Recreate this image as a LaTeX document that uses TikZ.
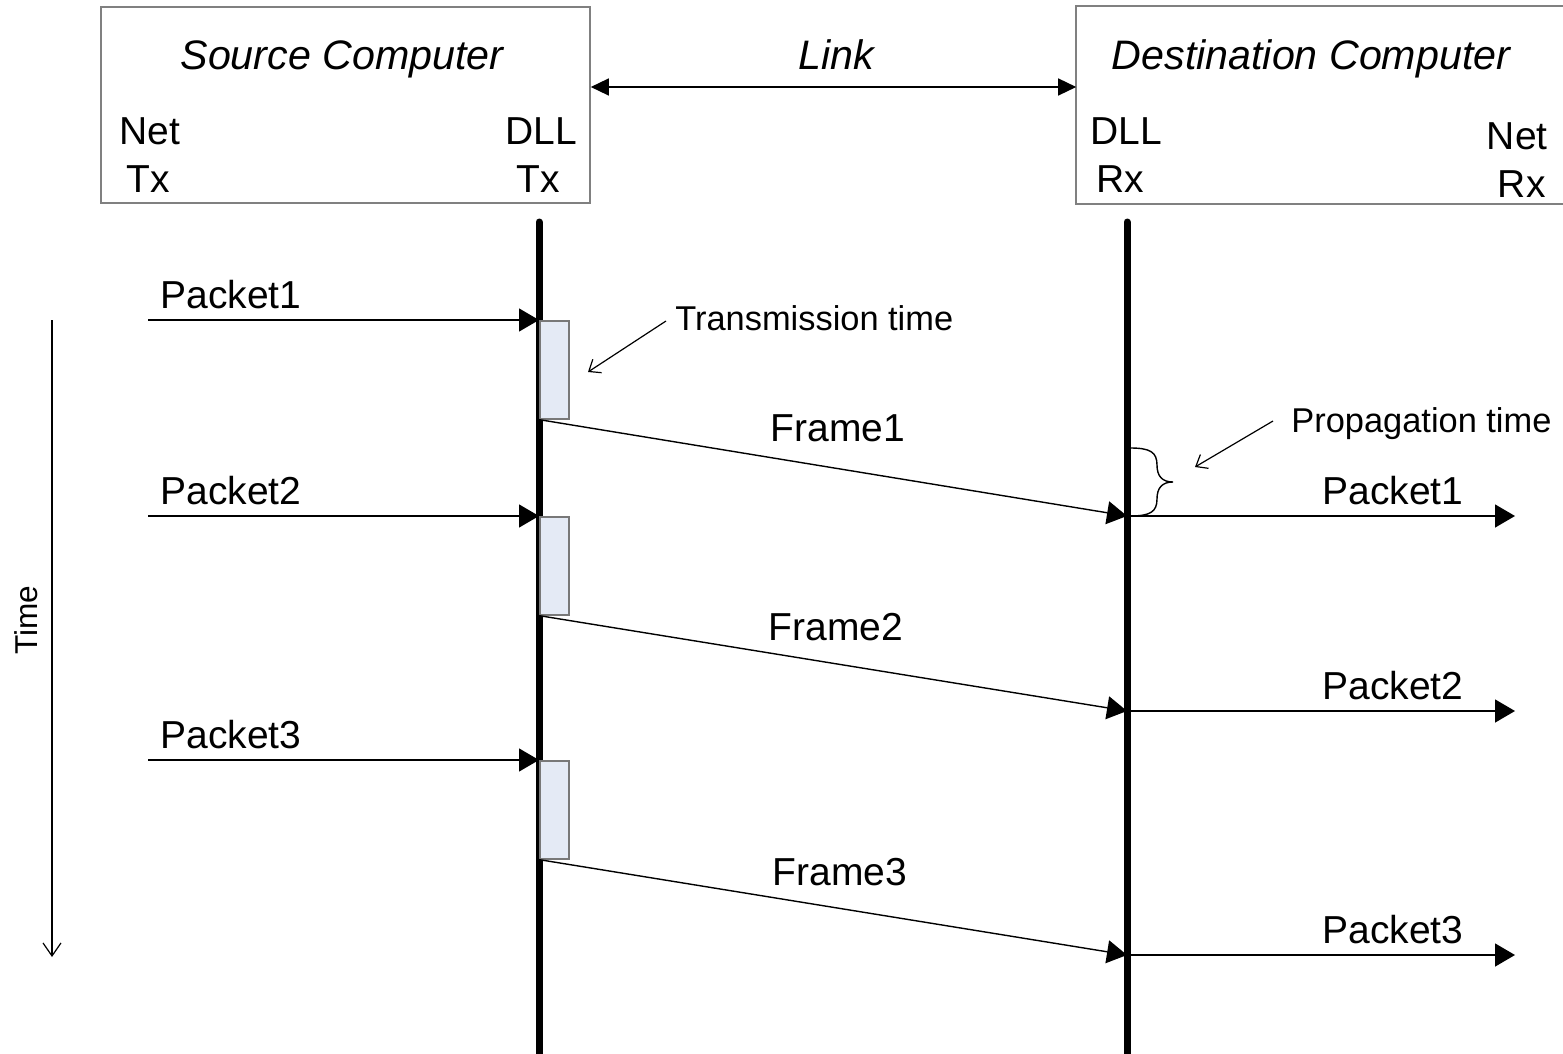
\documentclass[tikz,border=0pt]{standalone}
\usepackage{fontspec}
\setmainfont{Liberation Sans}
\usetikzlibrary{arrows.meta}
\definecolor{boxgray}{RGB}{128,128,128}
\definecolor{tfill}{RGB}{228,234,245}
\definecolor{tgray}{RGB}{120,120,120}
\begin{document}
\begin{tikzpicture}[x=0.5pt,y=-0.5pt,
 big/.style={font=\fontsize{19.5}{23}\selectfont, inner sep=0pt},
 title/.style={font=\fontsize{20.6}{24}\selectfont\itshape, inner sep=0pt, anchor=base},
 small/.style={font=\fontsize{17.2}{20}\selectfont, inner sep=0pt},
 comp/.style={draw=boxgray, line width=0.8pt, minimum width=244.5pt, minimum height=98pt, inner sep=0pt},
 life/.style={line width=3.5pt, line cap=round},
 msg/.style={line width=0.7pt, -{Triangle[length=10pt,width=11.5pt]}},
 linkarrow/.style={line width=0.7pt, {Triangle[length=9pt,width=8.5pt]}-{Triangle[length=9pt,width=8.5pt]}},
 tbox/.style={draw=tgray, fill=tfill, line width=0.8pt, minimum width=14.5pt, minimum height=49pt, inner sep=0pt, anchor=north west},
 note/.style={line width=0.6pt, -{Straight Barb[length=5pt,width=8pt]}},
]
\useasboundingbox (0,0) rectangle (1563,1054);

% computer boxes
\node[comp] (src) at (345.5,105) {};
\node[comp, draw=none, minimum width=243.5pt] (dst) at (1320.5,105) {};
\draw[draw=boxgray, line width=0.8pt] (dst.north east) -- (dst.north west) -- (dst.south west) -- (dst.south east);

\node[title] (srct) at (342,70) {Source Computer};
\node[title] (dstt) at (1311,70) {Destination Computer};
\node[title] (lk) at (836,70) {Link};
\coordinate (lkline) at (836,87);
\draw[linkarrow] (src.east |- lkline) -- (dst.west |- lkline);

\node[big, anchor=base] (snet) at (150,145) {Net};
\node[big, anchor=base] (stx) at (148,192) {Tx};
\node[big, anchor=base] (sdll) at (541,145) {DLL};
\node[big, anchor=base] (sdtx) at (538,192) {Tx};
\node[big, anchor=base] (ddll) at (1126,144) {DLL};
\node[big, anchor=base] (drx) at (1120,192) {Rx};
\node[big, anchor=base east] (dnet) at (1548,149) {Net};
\node[big, anchor=base east] (dnrx) at (1546,197) {Rx};

% lifelines
\coordinate (txT) at (539,222);
\coordinate (txB) at (539,1062);
\coordinate (rxT) at (1127,222);
\coordinate (rxB) at (1127,1062);
\draw[life] (txT) -- (txB);
\draw[life] (rxT) -- (rxB);

% packets and frames
\foreach \i/\y/\yr/\fy/\fx in {1/320/516/441/838, 2/516/711/640/836, 3/760/955/885/840}{
  \coordinate (ps\i) at (148,\y);
  \draw[msg] (ps\i) -- (ps\i -| txT);
  \node[big, anchor=base west] (pl\i) at (160,\y-12) {Packet\i};
  \node[tbox] (t\i) at (539,\y) {};
  \coordinate (r\i) at (1127,\yr);
  \draw[msg] (t\i.south west) -- (r\i);
  \node[big, anchor=base] (fl\i) at (\fx,\fy) {Frame\i};
  \coordinate (pe\i) at (1515,\yr);
  \draw[msg] (r\i) -- (pe\i);
  \node[big, anchor=base] (pr\i) at (1393,\yr-12) {Packet\i};
}

% annotations
\node[small, anchor=base west] (tt) at (675,330) {Transmission time};
\coordinate (tta) at (666,321);
\coordinate (ttb) at (588,372);
\draw[note] (tta) -- (ttb);

\node[small, anchor=base west] (pt) at (1291,432) {Propagation time};
\coordinate (pta) at (1273,421);
\coordinate (ptb) at (1195,467);
\draw[note] (pta) -- (ptb);

% brace
\draw[line width=0.7pt] (1130,448) .. controls (1150,448) and (1157,452) .. (1157,465)
  .. controls (1157,476) and (1162,482) .. (1173,482)
  .. controls (1162,482) and (1157,488) .. (1157,499)
  .. controls (1157,512) and (1150,516) .. (1130,516);

% time axis
\coordinate (ta) at (52,320);
\coordinate (tb) at (52,957);
\draw[line width=0.6pt, -{Straight Barb[length=6.5pt,width=9pt]}] (ta) -- (tb);
\node[font=\fontsize{15.8}{19}\selectfont, inner sep=0pt, rotate=90] (timel) at (26,620) {Time};
\end{tikzpicture}
\end{document}
